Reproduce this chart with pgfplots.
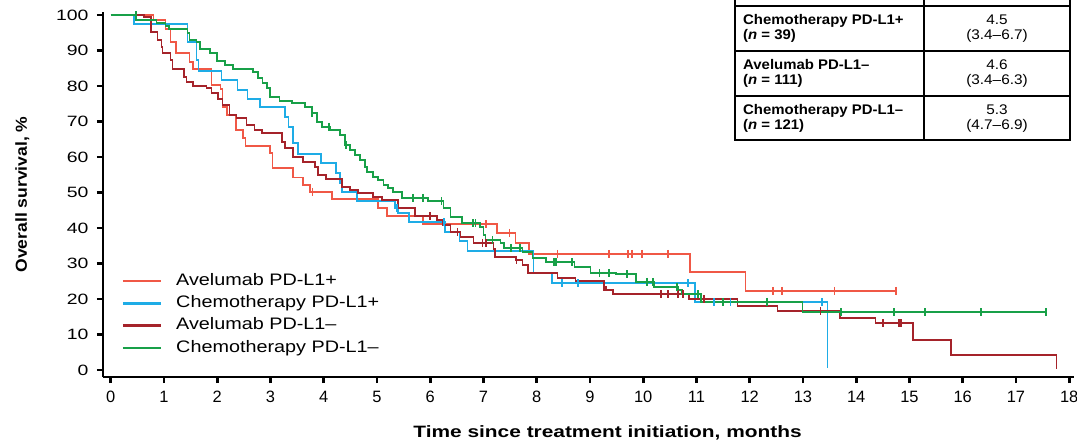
\documentclass[border=0pt]{standalone}
\usepackage{fontspec}
\setmainfont{Liberation Sans}
\usepackage{graphicx}
\usepackage{pgfplots}
\pgfplotsset{compat=1.18}

\definecolor{avpos}{RGB}{240,88,70}
\definecolor{chpos}{RGB}{30,172,230}
\definecolor{avneg}{RGB}{165,35,42}
\definecolor{chneg}{RGB}{24,160,72}

% horizontal stretch, the reference text runs wide
\newcommand{\wide}[2]{\scalebox{#1}[1]{#2}}

\begin{document}
\begin{tikzpicture}
\useasboundingbox (0,0) rectangle (1077bp,443bp);
\begin{axis}[
    at={(103bp,66bp)}, anchor=south west,
    scale only axis, width=971bp, height=365bp,
    xmin=-0.146, xmax=18.09, ymin=-1.97, ymax=100.85,
    axis lines*=left,
    axis line style={line width=2.6bp, black},
    xtick={0,...,18}, ytick={0,10,...,100},
    tick align=outside, major tick length=6bp,
    tick style={line width=2.6bp, black},
    /pgf/number format/assume math mode=true,
    xticklabel style={font=\fontsize{16.5}{18}\selectfont, yshift=-5bp},
    yticklabel style={font=\fontsize{15}{18}\selectfont, xshift=-5bp},
    yticklabel={\wide{1.3}{\pgfmathprintnumber{\tick}}},
    xlabel={\wide{1.27}{\textbf{Time since treatment initiation, months}}},
    xlabel style={at={(axis description cs:0.5196,-0.167)}, anchor=base,
        font=\fontsize{16.5}{18}\selectfont},
    ylabel={\wide{1.1}{\textbf{Overall survival, \%}}},
    ylabel style={at={(axis description cs:-0.0783,0.5)}, anchor=base,
        font=\fontsize{16}{18}\selectfont},
    clip=false,
    legend style={at={(axis cs:0.2,27.3)}, anchor=north west, draw=none, fill=none,
        font=\fontsize{16.7}{18}\selectfont, inner sep=0pt,
        row sep=6.8bp, column sep=14bp,
        nodes={inner sep=0pt, text height=12bp, text depth=3.5bp}},
    legend cell align=left,
    legend image code/.code={\draw[#1, line width=2.6bp] (0bp,0bp) -- (38bp,0bp);},
]
\addplot[avpos, line width=1.7bp, const plot, mark=none] coordinates {
(0,100) (0.80,98.6) (1.03,96.1) (1.12,92.4) (1.23,89.3) (1.48,86.8) (1.54,84.8)
(1.89,80.3) (2.06,79.2) (2.10,74.1) (2.18,71.8) (2.35,67.6) (2.48,65.4) (2.53,63.1)
(2.99,61.1) (3.04,56.9) (3.42,54.2) (3.61,52.1) (3.74,50.1) (4.15,48.2) (5.02,45.6)
(5.19,43.4) (5.87,41.1) (7.26,38.6) (7.60,35.8) (7.86,32.7) (10.88,27.6) (11.92,22.3)
(14.75,22.3)
};
\addlegendentry{\wide{1.19}{Avelumab PD-L1+}}
\addplot[chpos, line width=1.7bp, const plot, mark=none] coordinates {
(0,100) (0.44,97.5) (1.44,92.4) (1.61,87.3) (1.65,84.2) (2.08,81.7) (2.38,78.9)
(2.57,76.3) (2.80,74.1) (3.27,71.3) (3.34,68.5) (3.42,63.9) (3.51,60.8) (3.95,58.3)
(4.23,55.5) (4.30,52.7) (4.34,50.1) (4.62,47.6) (5.34,45.6) (5.40,44.2) (5.60,41.7)
(6.28,38.9) (6.55,36.3) (6.70,33.5) (7.94,27.3) (8.28,24.5) (10.97,19.2) (13.46,0.5)
};
\addlegendentry{\wide{1.19}{Chemotherapy PD-L1+}}
\addplot[avneg, line width=1.7bp, const plot, mark=none] coordinates {
(0,100) (0.63,99.4) (0.76,95.2) (0.88,93.0) (0.95,91.0) (0.97,89.3) (1.12,87.3)
(1.16,84.8) (1.37,82.5) (1.42,81.1) (1.54,80.0) (1.80,79.4) (1.89,78.0) (2.01,76.3)
(2.10,74.6) (2.23,71.8) (2.36,71.0) (2.55,69.0) (2.70,67.6) (2.84,66.8) (3.21,64.2)
(3.27,62.5) (3.42,60.0) (3.61,58.6) (3.83,57.2) (3.89,54.9) (4.04,53.8) (4.34,51.5)
(4.49,50.7) (4.64,49.9) (4.93,48.7) (5.10,47.9) (5.40,45.6) (5.72,43.4) (6.13,42.3)
(6.24,40.8) (6.38,38.9) (6.57,37.5) (6.81,35.8) (7.19,34.1) (7.22,31.8) (7.60,31.0)
(7.73,29.6) (7.83,27.3) (8.39,25.9) (8.73,25.1) (9.26,23.4) (9.30,22.5) (9.43,21.4)
(10.86,20.0) (11.77,18.0) (12.52,16.6) (13.69,14.6) (14.36,13.2) (15.06,8.5)
(15.78,4.2) (17.76,0.3)
};
\addlegendentry{\wide{1.19}{Avelumab PD-L1–}}
\addplot[chneg, line width=1.7bp, const plot, mark=none] coordinates {
(0,100) (0.48,98.6) (0.86,97.7) (1.03,96.9) (1.10,96.1) (1.44,94.9) (1.48,93.0)
(1.61,92.4) (1.67,90.4) (1.86,89.3) (1.99,87.0) (2.14,85.9) (2.29,84.8) (2.67,83.9)
(2.76,82.3) (2.85,80.8) (2.93,79.4) (2.99,76.9) (3.17,75.8) (3.40,75.2) (3.65,74.1)
(3.78,72.4) (3.87,69.9) (3.97,68.5) (4.12,67.6) (4.30,66.2) (4.40,63.4) (4.49,62.0)
(4.59,60.6) (4.68,59.2) (4.78,57.2) (4.81,55.8) (4.93,54.4) (5.02,53.5) (5.12,52.1)
(5.21,51.3) (5.30,50.1) (5.47,48.5) (5.96,47.6) (6.25,45.6) (6.38,43.1) (6.60,41.4)
(6.94,40.3) (7.00,38.0) (7.04,36.6) (7.32,35.8) (7.38,34.4) (7.73,33.2) (7.92,31.5)
(8.17,30.4) (8.71,29.0) (9.01,27.3) (9.49,27.0) (9.86,24.8) (10.20,23.4) (10.65,22.5)
(10.73,21.4) (11.09,19.2) (12.99,16.3) (17.57,16.3)
};
\addlegendentry{\wide{1.19}{Chemotherapy PD-L1–}}

% censored observations
\addplot[avpos, only marks, mark=|, mark size=4bp, mark options={line width=1.8bp}, forget plot] coordinates {
(3.79,50.1) (7.04,41.1) (7.49,38.6) (8.39,32.7) (9.35,32.7) (9.72,32.7) (9.79,32.7)
(9.98,32.7) (10.46,32.7) (12.43,22.3) (12.60,22.3) (13.59,22.3) (14.75,22.3)
};
\addplot[chpos, only marks, mark=|, mark size=4bp, mark options={line width=1.8bp}, forget plot] coordinates {
(5.38,45.6) (6.26,41.7) (8.47,24.5) (8.77,24.5) (10.84,24.5) (11.33,19.2) (11.64,19.2)
(13.36,19.2)
};
\addplot[avneg, only marks, mark=|, mark size=4bp, mark options={line width=1.8bp}, forget plot] coordinates {
(6.00,43.4) (6.51,38.9) (6.98,35.8) (7.04,35.8) (7.62,31.0) (9.26,23.4) (10.33,21.4)
(10.47,21.4) (10.65,21.4) (10.75,21.4) (11.14,20.0) (13.33,16.6) (14.51,13.2)
(14.80,13.2) (14.84,13.2)
};
\addplot[chneg, only marks, mark=|, mark size=4bp, mark options={line width=1.8bp}, forget plot] coordinates {
(0.48,100) (3.78,72.4) (4.10,68.5) (4.42,63.4) (5.68,48.5) (5.87,48.5) (6.21,47.6)
(6.81,41.4) (6.85,41.4) (7.17,36.6) (7.51,34.4) (7.68,34.4) (8.32,30.4) (8.34,30.4)
(8.36,30.4) (8.66,30.4) (9.18,27.3) (9.35,27.3) (9.69,27.0) (10.07,24.8) (10.18,24.8)
(10.63,23.4) (11.03,21.4) (11.50,19.2) (12.33,19.2) (13.72,16.3) (14.71,16.3)
(15.29,16.3) (16.34,16.3) (17.57,16.3)
};
\end{axis}

% median OS table, its header row runs off the top
\draw[line width=1.3bp] (735bp,303bp) rectangle (1070bp,490bp);
\draw[line width=1.3bp] (924bp,303bp) -- (924bp,490bp);
\draw[line width=1.3bp] (735bp,437bp) -- (1070bp,437bp);
\draw[line width=1.3bp] (735bp,392bp) -- (1070bp,392bp);
\draw[line width=1.3bp] (735bp,347bp) -- (1070bp,347bp);
\begin{scope}[every node/.style={inner sep=0pt, font=\fontsize{14}{15}\selectfont}]
\node[anchor=base west] at (743bp,418bp) {\wide{1.07}{\textbf{Chemotherapy PD-L1+}}};
\node[anchor=base west] at (743bp,403.5bp) {\wide{1.07}{\textbf{(\textit{n} = 39)}}};
\node[anchor=base west] at (743bp,373bp) {\wide{1.07}{\textbf{Avelumab PD-L1–}}};
\node[anchor=base west] at (743bp,358.5bp) {\wide{1.07}{\textbf{(\textit{n} = 111)}}};
\node[anchor=base west] at (743bp,328bp) {\wide{1.07}{\textbf{Chemotherapy PD-L1–}}};
\node[anchor=base west] at (743bp,313.5bp) {\wide{1.07}{\textbf{(\textit{n} = 121)}}};
\node[anchor=base] at (997bp,418bp) {\wide{1.1}{4.5}};
\node[anchor=base] at (997bp,403.5bp) {\wide{1.1}{(3.4–6.7)}};
\node[anchor=base] at (997bp,373bp) {\wide{1.1}{4.6}};
\node[anchor=base] at (997bp,358.5bp) {\wide{1.1}{(3.4–6.3)}};
\node[anchor=base] at (997bp,328bp) {\wide{1.1}{5.3}};
\node[anchor=base] at (997bp,313.5bp) {\wide{1.1}{(4.7–6.9)}};
\end{scope}
\end{tikzpicture}
\end{document}
